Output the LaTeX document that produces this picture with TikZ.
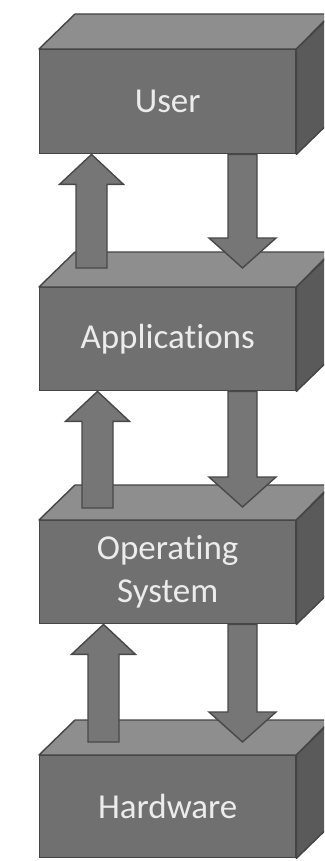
\documentclass[tikz,border=0pt]{standalone}
\usepackage{fontspec}
\newfontfamily\boxfont[Ligatures=NoCommon]{Carlito}
\usetikzlibrary{calc}
\definecolor{frontc}{RGB}{112,112,112}
\definecolor{topc}{RGB}{142,142,142}
\definecolor{sidec}{RGB}{90,90,90}
\definecolor{edgec}{RGB}{68,68,68}
\definecolor{arrowc}{RGB}{118,118,118}
\definecolor{arrowedge}{RGB}{72,72,72}
\definecolor{textc}{RGB}{236,236,236}
% #1 tail, #2 tip, #3 half shaft, #4 half head, #5 head length (picture units; + for up arrows)
\newcommand\fatarrow[5]{%
  \draw[fatarrowstyle] ($(#1)+(-#3,0)$) -- ($(#2)+(-#3,#5)$) -- ($(#2)+(-#4,#5)$) -- (#2)
    -- ($(#2)+(#4,#5)$) -- ($(#2)+(#3,#5)$) -- ($(#1)+(#3,0)$) -- cycle;}
\newcommand\boxfaces[1]{%
  \draw[topface] (#1.north west) -- ++(36,-35) -- ++(256,0) -- (#1.north east) -- cycle;
  \draw[sideface] (#1.north east) -- ++(36,-35) -- ($(#1.south east)+(36,-35)$) -- (#1.south east) -- cycle;}
\begin{document}
\begin{tikzpicture}[x=1pt,y=-1pt,
  front/.style={draw=edgec, fill=frontc, line width=1.4pt, rectangle, anchor=north west,
    minimum width=256pt, inner sep=0pt, text=textc, align=center,
    font=\boxfont\fontsize{35}{43}\selectfont},
  topface/.style={draw=edgec, fill=topc, line width=1.4pt, line join=round},
  sideface/.style={draw=edgec, fill=sidec, line width=1.4pt, line join=round},
  fatarrowstyle/.style={draw=arrowedge, fill=arrowc, line width=1.4pt, line join=miter}]
\useasboundingbox (0,0) rectangle (324,861);
\clip (0,0) rectangle (324,861);
\fill[white] (0,0) rectangle (324,861);
% boxes
\node[front, minimum height=104pt] (user) at (39,49) {User};
\boxfaces{user}
\node[front, minimum height=103pt] (app) at (39,287) {Applications};
\boxfaces{app}
\node[front, minimum height=103pt] (os) at (39,520) {Operating\\System};
\boxfaces{os}
\node[front, minimum height=102pt] (hw) at (39,755) {Hardware};
\boxfaces{hw}
% arrow end points
\coordinate (a1tip) at ($(user.south west)+(52.5,0)$);
\coordinate (a1tail) at ($(app.north west)+(52.5,-19)$);
\coordinate (d1tail) at ($(user.south west)+(203.5,0)$);
\coordinate (d1tip) at ($(app.north west)+(203.5,-19)$);
\coordinate (a2tip) at ($(app.south west)+(58.5,0)$);
\coordinate (a2tail) at ($(os.north west)+(58.5,-12)$);
\coordinate (d2tail) at ($(app.south west)+(203.5,0)$);
\coordinate (d2tip) at ($(os.north west)+(203.5,-13)$);
\coordinate (a3tip) at ($(os.south west)+(64.5,0)$);
\coordinate (a3tail) at ($(hw.north west)+(64.5,-13)$);
\coordinate (d3tail) at ($(os.south west)+(203.5,0)$);
\coordinate (d3tip) at ($(hw.north west)+(203.5,-13)$);
% arrows
\fatarrow{a1tail}{a1tip}{15.5}{32}{30}
\fatarrow{d1tail}{d1tip}{14.5}{33.5}{-30}
\fatarrow{a2tail}{a2tip}{15.5}{32}{30}
\fatarrow{d2tail}{d2tip}{14.5}{33.5}{-30}
\fatarrow{a3tail}{a3tip}{15.5}{32}{30}
\fatarrow{d3tail}{d3tip}{14.5}{33.5}{-30}
\end{tikzpicture}
\end{document}
